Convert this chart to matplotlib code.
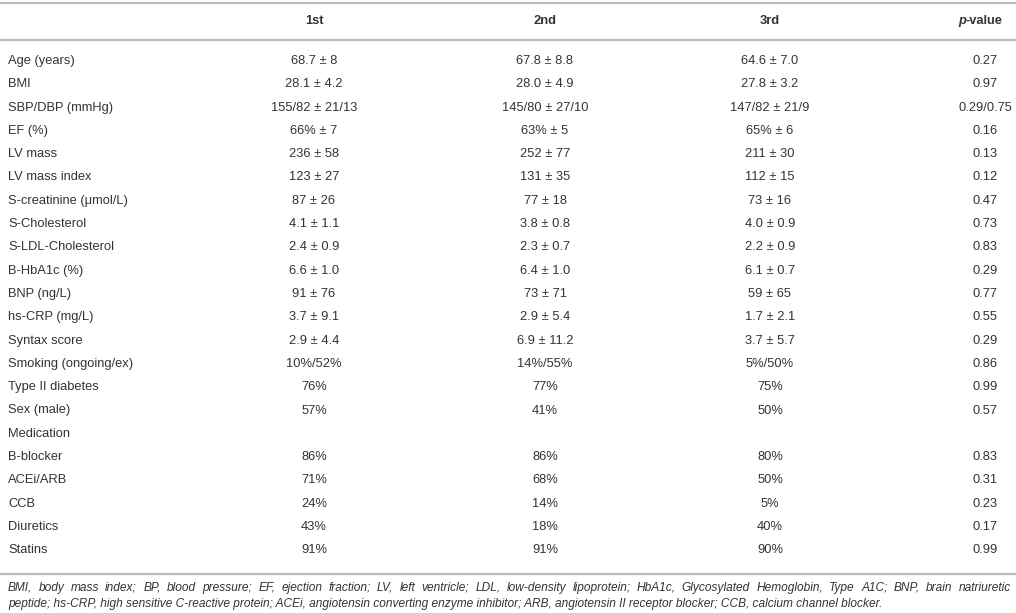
import matplotlib
matplotlib.use('Agg')
import matplotlib.pyplot as plt

plt.rcParams['font.family'] = ['Liberation Sans', 'DejaVu Sans']

# table data
pm = ' \u00b1 '
labels = ['Age (years)', 'BMI', 'SBP/DBP (mmHg)', 'EF (%)', 'LV mass', 'LV mass index',
          'S-creatinine (\u03bcmol/L)', 'S-Cholesterol', 'S-LDL-Cholesterol', 'B-HbA1c (%)',
          'BNP (ng/L)', 'hs-CRP (mg/L)', 'Syntax score', 'Smoking (ongoing/ex)',
          'Type II diabetes', 'Sex (male)', 'Medication', 'B-blocker', 'ACEi/ARB', 'CCB',
          'Diuretics', 'Statins']
first = ['68.7' + pm + '8', '28.1' + pm + '4.2', '155/82' + pm + '21/13', '66%' + pm + '7',
         '236' + pm + '58', '123' + pm + '27', '87' + pm + '26', '4.1' + pm + '1.1',
         '2.4' + pm + '0.9', '6.6' + pm + '1.0', '91' + pm + '76', '3.7' + pm + '9.1',
         '2.9' + pm + '4.4', '10%/52%', '76%', '57%', '', '86%', '71%', '24%', '43%', '91%']
second = ['67.8' + pm + '8.8', '28.0' + pm + '4.9', '145/80' + pm + '27/10', '63%' + pm + '5',
          '252' + pm + '77', '131' + pm + '35', '77' + pm + '18', '3.8' + pm + '0.8',
          '2.3' + pm + '0.7', '6.4' + pm + '1.0', '73' + pm + '71', '2.9' + pm + '5.4',
          '6.9' + pm + '11.2', '14%/55%', '77%', '41%', '', '86%', '68%', '14%', '18%', '91%']
third = ['64.6' + pm + '7.0', '27.8' + pm + '3.2', '147/82' + pm + '21/9', '65%' + pm + '6',
         '211' + pm + '30', '112' + pm + '15', '73' + pm + '16', '4.0' + pm + '0.9',
         '2.2' + pm + '0.9', '6.1' + pm + '0.7', '59' + pm + '65', '1.7' + pm + '2.1',
         '3.7' + pm + '5.7', '5%/50%', '75%', '50%', '', '80%', '50%', '5%', '40%', '90%']
pvals = ['0.27', '0.97', '0.29/0.75', '0.16', '0.13', '0.12', '0.47', '0.73', '0.83', '0.29',
         '0.77', '0.55', '0.29', '0.86', '0.99', '0.57', '', '0.83', '0.31', '0.23', '0.17', '0.99']
headers = ['1st', '2nd', '3rd']
footnote = ['BMI, body mass index; BP, blood pressure; EF, ejection fraction; LV, left ventricle; '
            'LDL, low-density lipoprotein; HbA1c, Glycosylated Hemoglobin, Type A1C; BNP, brain natriuretic',
            'peptide; hs-CRP, high sensitive C-reactive protein; ACEi, angiotensin converting enzyme '
            'inhibitor; ARB, angiotensin II receptor blocker; CCB, calcium channel blocker.']

W, H = 1016, 613
fig = plt.figure(figsize=(W / 100, H / 100), dpi=100)
ax = fig.add_axes([0, 0, 1, 1])
ax.set_xlim(0, W)
ax.set_ylim(H, 0)
ax.axis('off')

txt = '#333333'
line = '#bdbdbd'
fs = 9.3
ffs = 8.6

# horizontal rules
ax.plot([0, W], [3, 3], color=line, lw=1.6)
ax.plot([0, W], [40, 40], color=line, lw=1.6)
ax.plot([0, W], [574, 574], color=line, lw=1.6)

col_x = [314, 545, 770]
p_x = 985

# header
for x, h in zip(col_x, headers):
    ax.text(x, 21, h, ha='center', va='center', fontsize=fs, fontweight='bold', color=txt)
ax.text(958, 21, 'p', ha='left', va='center', fontsize=fs, fontstyle='italic',
        fontweight='bold', color=txt)
ax.text(965, 21, '-value', ha='left', va='center', fontsize=fs, fontweight='bold', color=txt)

# rows
y0, dy = 61, 23.3
for i, lab in enumerate(labels):
    y = y0 + i * dy
    ax.text(8, y, lab, ha='left', va='center', fontsize=fs, color=txt)
    ax.text(col_x[0], y, first[i], ha='center', va='center', fontsize=fs, color=txt)
    ax.text(col_x[1], y, second[i], ha='center', va='center', fontsize=fs, color=txt)
    ax.text(col_x[2], y, third[i], ha='center', va='center', fontsize=fs, color=txt)
    ax.text(p_x, y, pvals[i], ha='center', va='center', fontsize=fs, color=txt)

# footnote: first line justified to the full width, second line left aligned
renderer = fig.canvas.get_renderer()
words = footnote[0].split(' ')
objs = [ax.text(0, 588, w, ha='left', va='center', fontsize=ffs, fontstyle='italic', color=txt)
        for w in words]
widths = [o.get_window_extent(renderer).width for o in objs]
left, right = 8, 1011
gap = (right - left - sum(widths)) / (len(words) - 1)
x = left
for o, w in zip(objs, widths):
    o.set_x(x)
    x += w + gap
ax.text(8, 604, footnote[1], ha='left', va='center', fontsize=ffs, fontstyle='italic', color=txt)

fig.savefig('out.png', dpi=100)
